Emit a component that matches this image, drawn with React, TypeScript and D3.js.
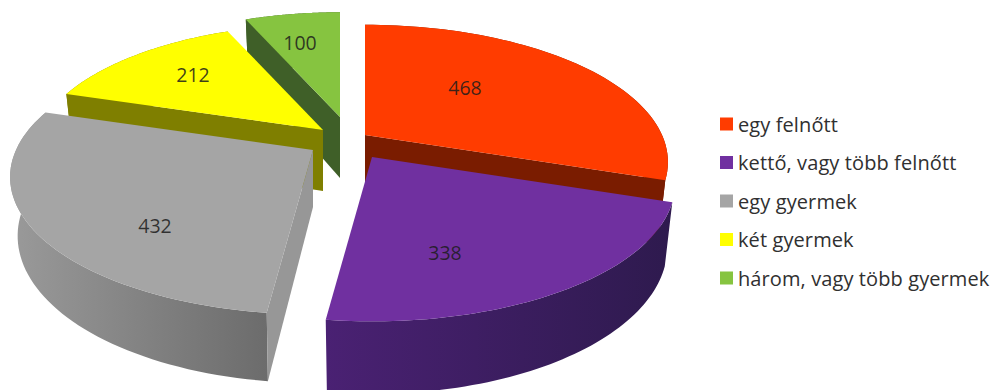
import React from "react";
import * as d3 from "d3";

const categories = ["egy felnőtt", "kettő, vagy több felnőtt", "egy gyermek", "két gyermek", "három, vagy több gyermek"];
const values = [468, 338, 432, 212, 100];
const topColors = ["#ff3c00", "#7030a0", "#a5a5a5", "#ffff00", "#86c440"];
const wallColors = ["#7a1c00", "#3c1f5e", "#979797", "#7f7f00", "#3f5f28"];
const rimColors = [
  ["#7a1c00", "#7a1c00"],
  ["#4a2173", "#2e1a4e"],
  ["#9a9a9a", "#6c6c6c"],
  ["#7f7f00", "#7f7f00"],
  ["#3f5f28", "#3f5f28"],
];

// Painter's order: furthest slice first.
const drawOrder = [4, 3, 0, 2, 1];

const W = 994;
const H = 390;

// Ground-plane perspective of the pie disc.
const cx = 342;
const cy = 143;
const radiusX = 297;
const radiusZ = 132;
const perspective = 0.197;
// Extrusion: the lower face is offset and slightly rescaled.
const lowerScaleX = 0.975;
const lowerScaleY = 1.07;

// Per-slice explosion on screen, extrusion depth and size.
const explodeDx = [23, 30, -29, -19, -2];
const explodeDy = [-8, 14, 7, -13, -26];
const sliceDepth = [61, 61, 57, 61, 61];
const sliceScale = [1, 1, 1, 0.96, 0.95];
// Value label position relative to the slice tip.
const labelDx = [100, 73, -158, -130, -40];
const labelDy = [-48, 95, 75, -56, -75];

type Pt = [number, number];

const project = (x: number, z: number): Pt => {
  const s = 1 / (1 + perspective * z);
  return [radiusX * x * s, -radiusZ * z * s];
};

const arcs = d3.pie<number>().sort(null).startAngle(0).endAngle(2 * Math.PI)(values);
const line = d3.line<Pt>();

const upperAt = (i: number, r: number, a: number): Pt => {
  const [x, y] = project(r * Math.sin(a), r * Math.cos(a));
  return [x * sliceScale[i], y * sliceScale[i]];
};
const toScreen = (i: number, p: Pt): Pt => [cx + explodeDx[i] + p[0], cy + explodeDy[i] + p[1]];
const upper = (i: number, p: Pt): Pt => toScreen(i, p);
const lower = (i: number, p: Pt): Pt =>
  toScreen(i, [p[0] * lowerScaleX, p[1] * lowerScaleY + sliceDepth[i]]);

const rimLocal = (i: number): Pt[] => {
  const { startAngle, endAngle } = arcs[i];
  return d3.range(0, 61).map((k) => upperAt(i, 1, startAngle + ((endAngle - startAngle) * k) / 60));
};

const legendX = d3.scaleLinear().domain([0, 1]).range([720, 738]);
const legendY = d3.scalePoint<string>().domain(categories).range([124, 278]);

export default function App() {
  return (
    <svg
      width={W}
      height={H}
      viewBox={`0 0 ${W} ${H}`}
      style={{ position: "absolute", left: 0, top: 0, background: "#fff", display: "block" }}
      fontFamily="'Open Sans', sans-serif"
    >
      <defs>
        {rimColors.map((c, i) => {
          const xs = rimLocal(i).map((p) => upper(i, p)[0]);
          return (
            <linearGradient
              key={i}
              id={`rim-${i}`}
              gradientUnits="userSpaceOnUse"
              x1={d3.min(xs)}
              x2={d3.max(xs)}
              y1={0}
              y2={0}
            >
              <stop offset="0%" stopColor={c[0]} />
              <stop offset="100%" stopColor={c[1]} />
            </linearGradient>
          );
        })}
      </defs>
      {drawOrder.map((i) => {
        const { startAngle, endAngle } = arcs[i];
        const tip: Pt = [0, 0];
        const rim = rimLocal(i);
        const last = rim[rim.length - 1];
        const walls: Pt[][] = [];
        // A radial wall shows only when its outward normal faces the viewer.
        if (Math.cos(startAngle - Math.PI / 2) < -1e-6) {
          walls.push([upper(i, tip), upper(i, rim[0]), lower(i, rim[0]), lower(i, tip)]);
        }
        if (Math.cos(endAngle + Math.PI / 2) < -1e-6) {
          walls.push([upper(i, tip), upper(i, last), lower(i, last), lower(i, tip)]);
        }
        const outer = [...rim.map((p) => upper(i, p)), ...rim.map((p) => lower(i, p)).reverse()];
        const top = [upper(i, tip), ...rim.map((p) => upper(i, p))];
        const label = toScreen(i, [labelDx[i], labelDy[i]]);
        return (
          <g key={i}>
            <path d={line(outer)! + "Z"} fill={`url(#rim-${i})`} />
            {walls.map((w, k) => (
              <path key={k} d={line(w)! + "Z"} fill={wallColors[i]} />
            ))}
            <path d={line(top)! + "Z"} fill={topColors[i]} />
            <text
              x={label[0]}
              y={label[1]}
              textAnchor="middle"
              dominantBaseline="central"
              fontSize={19.5}
              fill="#1c1c1c"
              fillOpacity={0.85}
            >
              {values[i]}
            </text>
          </g>
        );
      })}
      {categories.map((c, i) => (
        <g key={c}>
          <rect x={legendX(0)} y={legendY(c)! - 6.5} width={13} height={13} fill={topColors[i]} />
          <text x={legendX(1)} y={legendY(c)!} dominantBaseline="central" fontSize={20} letterSpacing={0.1} fill="#303030">
            {c}
          </text>
        </g>
      ))}
    </svg>
  );
}
